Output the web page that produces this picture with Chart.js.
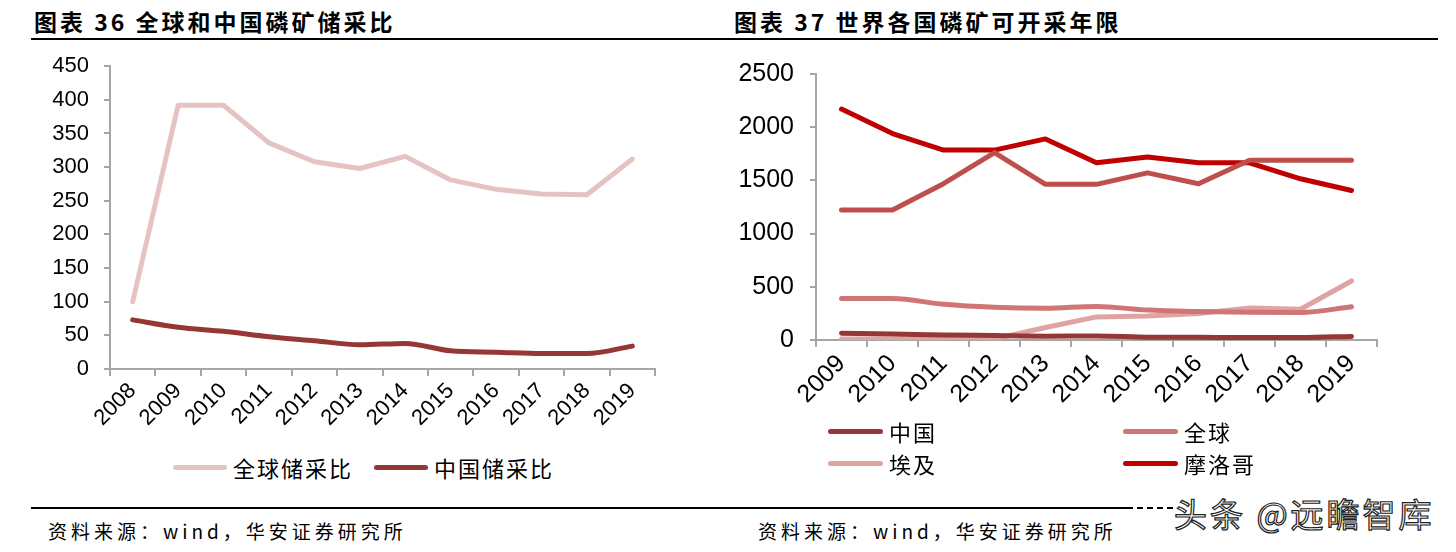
<!DOCTYPE html>
<html>
<head>
<meta charset="utf-8">
<script src="https://cdn.jsdelivr.net/npm/chart.js@4.4.0/dist/chart.umd.min.js"></script>
<style>
  body { margin: 0; width: 1456px; height: 552px; background: #fff; position: relative; overflow: hidden;
         font-family: "Noto Sans CJK SC", sans-serif; color: #000; }
  .title { position: absolute; top: 4px; font-size: 23px; font-weight: bold; letter-spacing: 3px; white-space: nowrap; }
  .rule { position: absolute; height: 2px; background: #000; }
  .source { position: absolute; top: 517px; font-size: 19px; letter-spacing: 4px; white-space: nowrap; }
  canvas { position: absolute; }
  .legend-item { position: absolute; white-space: nowrap; }
  .legend-item i { position: absolute; left: 0; height: 5px; border-radius: 3px; }
  .legend-item span { position: absolute; letter-spacing: 2px; line-height: 1; }
  .mark { position: absolute; left: 1174px; top: 489px; font-size: 33px; color: #fff; letter-spacing: 3px;
          -webkit-text-stroke: 1.2px #222; white-space: nowrap; }
</style>
</head>
<body>
<div class="title" style="left:34px">图表 36 全球和中国磷矿储采比</div>
<div class="title" style="left:734px">图表 37 世界各国磷矿可开采年限</div>
<div class="rule" style="left:31px; top:38px; width:1407px;"></div>

<canvas id="left-chart" width="728" height="412" style="left:0; top:38px;"></canvas>
<canvas id="right-chart" width="728" height="377" style="left:728px; top:43px;"></canvas>
<div id="left-legend"></div>
<div id="right-legend"></div>

<div class="rule" style="left:31px; top:507px; width:1096px;"></div>
<div class="rule" style="left:1127px; top:507px; width:46px; background:none; border-top:2px dashed #000; height:0;"></div>
<div class="source" style="left:48px">资料来源：wind，华安证券研究所</div>
<div class="source" style="left:758px">资料来源：wind，华安证券研究所</div>
<div class="mark">头条 @远瞻智库</div>

<script>
// Left chart data (储采比)
const leftYears = ['2008', '2009', '2010', '2011', '2012', '2013', '2014', '2015', '2016', '2017', '2018', '2019'];
const globalRatio = [100, 392, 392, 336, 308, 298, 316, 281, 267, 260, 259, 312];
const chinaRatio = [73, 62, 56, 48, 42, 36, 38, 27, 25, 23, 23, 34];
const leftTicks = [0, 50, 100, 150, 200, 250, 300, 350, 400, 450];

// Right chart data (可开采年限)
const rightYears = ['2009', '2010', '2011', '2012', '2013', '2014', '2015', '2016', '2017', '2018', '2019'];
const chinaYears = [63, 56, 48, 42, 36, 38, 27, 25, 23, 23, 34];
const globalYears = [390, 390, 336, 308, 298, 316, 281, 267, 260, 259, 312];
const egyptYears = [10, 10, 10, 10, 118, 217, 225, 250, 300, 289, 555];
const moroccoYears = [2170, 1940, 1785, 1785, 1890, 1665, 1720, 1665, 1665, 1515, 1405];
const otherYears = [1221, 1221, 1469, 1762, 1463, 1463, 1571, 1469, 1690, 1690, 1690];
const rightTicks = [0, 500, 1000, 1500, 2000, 2500];

const AXIS_GRAY = '#A6A6A6';
const TICK_FONT = "'Liberation Sans', Arial, sans-serif";

function lineSet(label, data, color, smooth) {
    return {
        label: label,
        data: data,
        borderColor: color,
        backgroundColor: color,
        borderWidth: 5,
        pointRadius: 0,
        borderCapStyle: 'round',
        borderJoinStyle: 'round',
        tension: 0,
        cubicInterpolationMode: smooth ? 'monotone' : 'default',
        fill: false
    };
}

function axisOptions(opts) {
    return {
        x: {
            offset: true,
            grid: { offset: true, drawOnChartArea: false, drawTicks: true, tickLength: 7, color: AXIS_GRAY, lineWidth: 2 },
            border: { color: AXIS_GRAY, width: 2 },
            ticks: {
                autoSkip: false, minRotation: 45, maxRotation: 45, padding: 2,
                color: '#000', font: { family: TICK_FONT, size: opts.font }
            },
            afterFit: s => { s.height = opts.xHeight; }
        },
        y: {
            min: 0,
            max: opts.max,
            grid: { drawOnChartArea: false, drawTicks: true, tickLength: 6, color: AXIS_GRAY, lineWidth: 2 },
            border: { color: AXIS_GRAY, width: 2 },
            afterBuildTicks: s => { s.ticks = opts.ticks.map(v => ({ value: v })); },
            ticks: {
                padding: opts.pad, color: '#000', font: { family: TICK_FONT, size: opts.font },
                callback: v => String(v)
            },
            afterFit: s => { s.width = opts.yWidth; }
        }
    };
}

// Left chart
new Chart(document.getElementById('left-chart'), {
    type: 'line',
    data: {
        labels: leftYears,
        datasets: [
            lineSet('全球储采比', globalRatio, '#E6C3C3', false),
            lineSet('中国储采比', chinaRatio, '#953735', true)
        ]
    },
    options: {
        responsive: false,
        animation: false,
        layout: { padding: { top: 13, right: 73, left: 0, bottom: 0 } },
        plugins: { legend: { display: false }, tooltip: { enabled: false } },
        scales: axisOptions({ font: 22, max: 450, ticks: leftTicks, pad: 15, yWidth: 110, xHeight: 81 })
    }
});

// Right chart
new Chart(document.getElementById('right-chart'), {
    type: 'line',
    data: {
        labels: rightYears,
        datasets: [
            lineSet('中国', chinaYears, '#953735', true),
            lineSet('全球', globalYears, '#D07575', true),
            lineSet('埃及', egyptYears, '#E0A3A3', false),
            lineSet('', otherYears, '#BE4F4C', false),
            lineSet('摩洛哥', moroccoYears, '#C00000', false)
        ]
    },
    options: {
        responsive: false,
        animation: false,
        layout: { padding: { top: 27, right: 79, left: 0, bottom: 0 } },
        plugins: { legend: { display: false }, tooltip: { enabled: false } },
        scales: axisOptions({ font: 25, max: 2500, ticks: rightTicks, pad: 16, yWidth: 88, xHeight: 80 })
    }
});

// HTML legends
function renderLegend(container, items, fontSize) {
    container.innerHTML = items.map(item => `
        <div class="legend-item" style="left:${item.x}px; top:${item.y}px;">
            <i style="width:${item.w}px; top:-3px; background:${item.color};"></i>
            <span style="left:${item.w + 6}px; top:${-fontSize / 2 - 1}px; font-size:${fontSize}px;">${item.label}</span>
        </div>
    `).join('');
}

renderLegend(document.getElementById('left-legend'), [
    { label: '全球储采比', color: '#E6C3C3', x: 173, y: 468, w: 54 },
    { label: '中国储采比', color: '#953735', x: 374, y: 468, w: 54 }
], 22);

renderLegend(document.getElementById('right-legend'), [
    { label: '中国', color: '#953735', x: 828, y: 432, w: 55 },
    { label: '全球', color: '#D07575', x: 1123, y: 432, w: 55 },
    { label: '埃及', color: '#E0A3A3', x: 828, y: 464, w: 55 },
    { label: '摩洛哥', color: '#C00000', x: 1123, y: 464, w: 55 }
], 22);
</script>
</body>
</html>
